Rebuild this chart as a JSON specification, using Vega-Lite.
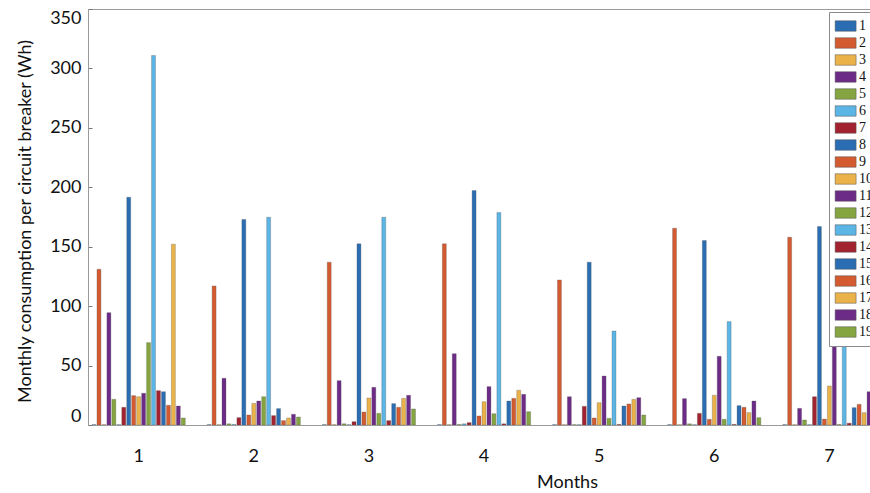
{
  "$schema": "https://vega.github.io/schema/vega-lite/v6.json",
  "autosize": {"type": "none"},
  "width": 782,
  "height": 416,
  "padding": {"left": 88, "top": 9, "right": 0, "bottom": 68},
  "config": {
    "view": {"stroke": "#9a9a9a", "strokeWidth": 1},
    "font": "Lato"
  },
  "data": {
    "values": [
      {"month": 1, "breaker": 1, "wh": 0.3}, {"month": 1, "breaker": 2, "wh": 131}, {"month": 1, "breaker": 3, "wh": 0.3}, {"month": 1, "breaker": 4, "wh": 94.5}, {"month": 1, "breaker": 5, "wh": 21.6}, {"month": 1, "breaker": 6, "wh": 0.3}, {"month": 1, "breaker": 7, "wh": 14.9}, {"month": 1, "breaker": 8, "wh": 191.6}, {"month": 1, "breaker": 9, "wh": 24.7}, {"month": 1, "breaker": 10, "wh": 23.8}, {"month": 1, "breaker": 11, "wh": 26.7}, {"month": 1, "breaker": 12, "wh": 69.3}, {"month": 1, "breaker": 13, "wh": 310.9}, {"month": 1, "breaker": 14, "wh": 28.9}, {"month": 1, "breaker": 15, "wh": 28.0}, {"month": 1, "breaker": 16, "wh": 16.6}, {"month": 1, "breaker": 17, "wh": 152.1}, {"month": 1, "breaker": 18, "wh": 16.0}, {"month": 1, "breaker": 19, "wh": 5.9},
      {"month": 2, "breaker": 1, "wh": 0.3}, {"month": 2, "breaker": 2, "wh": 117}, {"month": 2, "breaker": 3, "wh": 0.3}, {"month": 2, "breaker": 4, "wh": 39.3}, {"month": 2, "breaker": 5, "wh": 1.0}, {"month": 2, "breaker": 6, "wh": 0.5}, {"month": 2, "breaker": 7, "wh": 6.2}, {"month": 2, "breaker": 8, "wh": 173}, {"month": 2, "breaker": 9, "wh": 8.4}, {"month": 2, "breaker": 10, "wh": 18.2}, {"month": 2, "breaker": 11, "wh": 20.2}, {"month": 2, "breaker": 12, "wh": 23.8}, {"month": 2, "breaker": 13, "wh": 174.8}, {"month": 2, "breaker": 14, "wh": 7.9}, {"month": 2, "breaker": 15, "wh": 13.8}, {"month": 2, "breaker": 16, "wh": 3.7}, {"month": 2, "breaker": 17, "wh": 5.9}, {"month": 2, "breaker": 18, "wh": 9.0}, {"month": 2, "breaker": 19, "wh": 6.7},
      {"month": 3, "breaker": 1, "wh": 0.3}, {"month": 3, "breaker": 2, "wh": 137}, {"month": 3, "breaker": 3, "wh": 0.3}, {"month": 3, "breaker": 4, "wh": 37.3}, {"month": 3, "breaker": 5, "wh": 1.0}, {"month": 3, "breaker": 6, "wh": 0.3}, {"month": 3, "breaker": 7, "wh": 2.8}, {"month": 3, "breaker": 8, "wh": 152.4}, {"month": 3, "breaker": 9, "wh": 10.9}, {"month": 3, "breaker": 10, "wh": 22.7}, {"month": 3, "breaker": 11, "wh": 31.7}, {"month": 3, "breaker": 12, "wh": 9.8}, {"month": 3, "breaker": 13, "wh": 174.8}, {"month": 3, "breaker": 14, "wh": 3.7}, {"month": 3, "breaker": 15, "wh": 18.0}, {"month": 3, "breaker": 16, "wh": 14.9}, {"month": 3, "breaker": 17, "wh": 22.4}, {"month": 3, "breaker": 18, "wh": 25.0}, {"month": 3, "breaker": 19, "wh": 13.5},
      {"month": 4, "breaker": 1, "wh": 0.3}, {"month": 4, "breaker": 2, "wh": 152.4}, {"month": 4, "breaker": 3, "wh": 0.3}, {"month": 4, "breaker": 4, "wh": 60}, {"month": 4, "breaker": 5, "wh": 0.5}, {"month": 4, "breaker": 6, "wh": 1.0}, {"month": 4, "breaker": 7, "wh": 2.0}, {"month": 4, "breaker": 8, "wh": 197.2}, {"month": 4, "breaker": 9, "wh": 7.6}, {"month": 4, "breaker": 10, "wh": 19.6}, {"month": 4, "breaker": 11, "wh": 32.3}, {"month": 4, "breaker": 12, "wh": 9.5}, {"month": 4, "breaker": 13, "wh": 178.7}, {"month": 4, "breaker": 14, "wh": 1.0}, {"month": 4, "breaker": 15, "wh": 20.2}, {"month": 4, "breaker": 16, "wh": 22.4}, {"month": 4, "breaker": 17, "wh": 29.2}, {"month": 4, "breaker": 18, "wh": 25.8}, {"month": 4, "breaker": 19, "wh": 11.2},
      {"month": 5, "breaker": 1, "wh": 0.3}, {"month": 5, "breaker": 2, "wh": 122}, {"month": 5, "breaker": 3, "wh": 0.3}, {"month": 5, "breaker": 4, "wh": 23.8}, {"month": 5, "breaker": 5, "wh": 0.3}, {"month": 5, "breaker": 6, "wh": 0.3}, {"month": 5, "breaker": 7, "wh": 15.7}, {"month": 5, "breaker": 8, "wh": 137}, {"month": 5, "breaker": 9, "wh": 5.9}, {"month": 5, "breaker": 10, "wh": 18.8}, {"month": 5, "breaker": 11, "wh": 41.2}, {"month": 5, "breaker": 12, "wh": 5.6}, {"month": 5, "breaker": 13, "wh": 79.1}, {"month": 5, "breaker": 14, "wh": 0.5}, {"month": 5, "breaker": 15, "wh": 16.0}, {"month": 5, "breaker": 16, "wh": 17.7}, {"month": 5, "breaker": 17, "wh": 21.6}, {"month": 5, "breaker": 18, "wh": 23.0}, {"month": 5, "breaker": 19, "wh": 8.4},
      {"month": 6, "breaker": 1, "wh": 0.3}, {"month": 6, "breaker": 2, "wh": 165.6}, {"month": 6, "breaker": 3, "wh": 0.3}, {"month": 6, "breaker": 4, "wh": 22.2}, {"month": 6, "breaker": 5, "wh": 1.0}, {"month": 6, "breaker": 6, "wh": 0.3}, {"month": 6, "breaker": 7, "wh": 9.8}, {"month": 6, "breaker": 8, "wh": 155.2}, {"month": 6, "breaker": 9, "wh": 4.8}, {"month": 6, "breaker": 10, "wh": 25.0}, {"month": 6, "breaker": 11, "wh": 57.8}, {"month": 6, "breaker": 12, "wh": 4.8}, {"month": 6, "breaker": 13, "wh": 87}, {"month": 6, "breaker": 14, "wh": 0.5}, {"month": 6, "breaker": 15, "wh": 16.3}, {"month": 6, "breaker": 16, "wh": 14.9}, {"month": 6, "breaker": 17, "wh": 10.4}, {"month": 6, "breaker": 18, "wh": 20.2}, {"month": 6, "breaker": 19, "wh": 6.2},
      {"month": 7, "breaker": 1, "wh": 0.3}, {"month": 7, "breaker": 2, "wh": 158}, {"month": 7, "breaker": 3, "wh": 0.3}, {"month": 7, "breaker": 4, "wh": 14.0}, {"month": 7, "breaker": 5, "wh": 4.2}, {"month": 7, "breaker": 6, "wh": 0.3}, {"month": 7, "breaker": 7, "wh": 23.8}, {"month": 7, "breaker": 8, "wh": 167}, {"month": 7, "breaker": 9, "wh": 5.0}, {"month": 7, "breaker": 10, "wh": 32.8}, {"month": 7, "breaker": 11, "wh": 71.5}, {"month": 7, "breaker": 12, "wh": 0.5}, {"month": 7, "breaker": 13, "wh": 73}, {"month": 7, "breaker": 14, "wh": 1.5}, {"month": 7, "breaker": 15, "wh": 14.6}, {"month": 7, "breaker": 16, "wh": 17.4}, {"month": 7, "breaker": 17, "wh": 10.4}, {"month": 7, "breaker": 18, "wh": 28.0}, {"month": 7, "breaker": 19, "wh": 8.0}
    ]
  },
  "mark": {"type": "bar", "clip": true, "stroke": "#555555", "strokeWidth": 0.3},
  "encoding": {
    "x": {
      "field": "month",
      "type": "ordinal",
      "scale": {"range": [0, 792], "paddingInner": 0.19, "paddingOuter": 0.035},
      "axis": {
        "title": "Months",
        "labelAngle": 0,
        "labelFontSize": 18,
        "labelColor": "#111111",
        "labelFont": "Lato",
        "labelPadding": 22,
        "ticks": false,
        "tickSize": 0,
        "domainColor": "#9a9a9a",
        "titleFontSize": 18,
        "titleFont": "Lato",
        "titleFontWeight": "normal",
        "titleColor": "#111111",
        "titleX": 479,
        "titleY": 57,
        "titleBaseline": "middle",
        "titleAlign": "center"
      }
    },
    "xOffset": {
      "field": "breaker",
      "type": "ordinal",
      "scale": {"paddingInner": 0.2, "paddingOuter": 0}
    },
    "y": {
      "field": "wh",
      "type": "quantitative",
      "scale": {"domain": [0, 350], "nice": false},
      "axis": {
        "title": "Monthly consumption per circuit breaker (Wh)",
        "values": [0, 50, 100, 150, 200, 250, 300, 350],
        "grid": false,
        "tickSize": -4,
        "tickColor": "#777777",
        "domainColor": "#9a9a9a",
        "labelFontSize": 18,
        "labelFont": "Lato",
        "labelColor": "#111111",
        "labelPadding": 11,
        "labelFlush": true,
        "titleFontSize": 18,
        "titleFont": "Lato",
        "titleFontWeight": "normal",
        "titleColor": "#111111",
        "titleX": -63,
        "titleY": 212,
        "titleAngle": 270,
        "titleAlign": "center",
        "titleBaseline": "middle"
      }
    },
    "color": {
      "field": "breaker",
      "type": "ordinal",
      "scale": {
        "domain": [1, 2, 3, 4, 5, 6, 7, 8, 9, 10, 11, 12, 13, 14, 15, 16, 17, 18, 19],
        "range": ["#2a6db3", "#d45a2f", "#ebb24a", "#6d2b88", "#84a540", "#5bb5e5", "#a3222f", "#2a6db3", "#d45a2f", "#ebb24a", "#6d2b88", "#84a540", "#5bb5e5", "#a3222f", "#2a6db3", "#d45a2f", "#ebb24a", "#6d2b88", "#84a540"]
      },
      "legend": {
        "title": null,
        "orient": "none",
        "legendX": 741,
        "legendY": 3,
        "fillColor": "white",
        "strokeColor": "#8a8a8a",
        "padding": 7,
        "symbolType": "M-1.5,-1H2.5V1H-1.5Z",
        "symbolSize": 110,
        "symbolStrokeColor": "#555555",
        "symbolStrokeWidth": 0.5,
        "symbolOpacity": 1,
        "labelFont": "Liberation Serif",
        "labelFontSize": 14,
        "labelColor": "#111111",
        "labelOffset": 9,
        "rowPadding": 3,
        "cornerRadius": 0
      }
    }
  }
}
